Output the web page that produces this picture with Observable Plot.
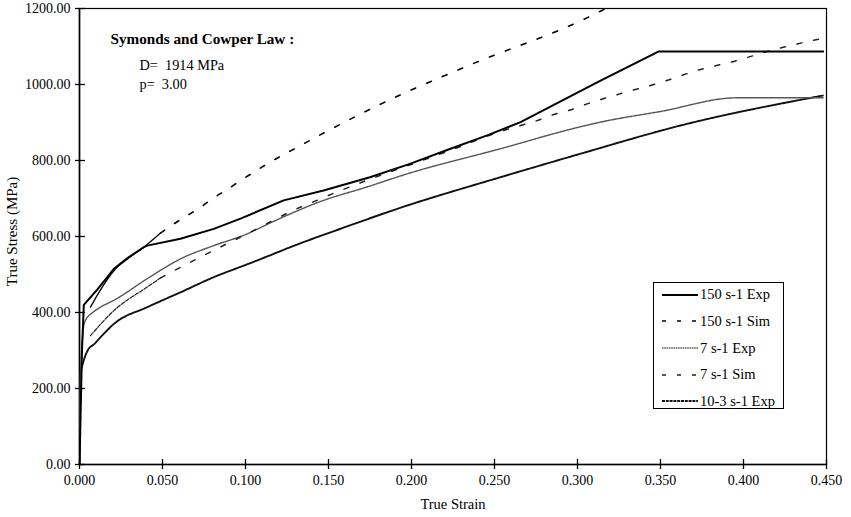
<!DOCTYPE html>
<html><head><meta charset="utf-8">
<script src="https://cdn.jsdelivr.net/npm/d3@7"></script>
<script src="https://cdn.jsdelivr.net/npm/@observablehq/plot@0.6"></script>
<style>
body{margin:0;background:#fff;}
#wrap{position:relative;width:851px;height:517px;font-family:"Liberation Serif",serif;color:#000;}
#legend{position:absolute;left:653px;top:282px;width:131px;height:127px;border:1.3px solid #000;background:#fff;box-sizing:border-box;}
.item{position:absolute;left:0;height:18px;display:flex;align-items:center;font-size:14.5px;white-space:nowrap;}
.item svg{margin-left:8px;margin-right:2px;}
</style></head><body><div id="wrap"></div>
<script>
// Axis ticks
const xTicks = [0, 0.05, 0.10, 0.15, 0.20, 0.25, 0.30, 0.35, 0.40, 0.45];
const yTicks = [0, 200, 400, 600, 800, 1000, 1200];

// 150 s-1 Exp
const strain150Exp = [0, 0.0015, 0.0026, 0.0107, 0.0207, 0.0295, 0.0388, 0.0408, 0.0608, 0.0809, 0.097, 0.123, 0.147, 0.175, 0.199, 0.2235, 0.2456, 0.2657, 0.3139, 0.349, 0.448];
const stress150Exp = [0, 300, 420, 460, 515, 545, 572, 576, 594, 620, 647, 695, 721, 756, 791, 831, 866, 901, 1010, 1087, 1087];

// 150 s-1 Sim
const strain150Sim = [0.0066, 0.012, 0.0207, 0.0295, 0.0388, 0.0488, 0.0568, 0.0649, 0.0729, 0.0809, 0.088, 0.097, 0.115, 0.133, 0.15, 0.197, 0.2155, 0.2355, 0.306, 0.317];
const stress150Sim = [414, 455, 510, 543, 572, 609, 633, 655, 677, 702, 721, 747, 796, 839, 879, 980, 1015, 1052, 1176, 1200];

// 7 s-1 Exp
const strain7Exp = [0, 0.0008, 0.0026, 0.0036, 0.008, 0.013, 0.0207, 0.0408, 0.0608, 0.0809, 0.1, 0.117, 0.147, 0.173, 0.196, 0.2536, 0.302, 0.3139, 0.35, 0.396, 0.448];
const stress7Exp = [0, 250, 366, 379, 400, 415, 432, 489, 541, 576, 605, 640, 695, 730, 763, 831, 889, 901, 929, 965, 965];

// 7 s-1 Sim
const strain7Sim = [0.0066, 0.0207, 0.0408, 0.0488, 0.0578, 0.0659, 0.0729, 0.1, 0.133, 0.143, 0.155, 0.165, 0.2235, 0.2556, 0.2657, 0.2757, 0.2857, 0.2958, 0.3058, 0.326, 0.35, 0.372, 0.396, 0.416, 0.446];
const stress7Sim = [339, 405, 467, 491, 512, 530, 546, 605, 677, 695, 717, 734, 827, 879, 892, 905, 921, 933, 949, 976, 1005, 1037, 1063, 1089, 1120];

// 10-3 s-1 Exp
const strain1e3Exp = [0, 0, 0.0003, 0.003, 0.0056, 0.0084, 0.0127, 0.0207, 0.0408, 0.0608, 0.0809, 0.103, 0.133, 0.157, 0.195, 0.2536, 0.302, 0.362, 0.448];
const stress1e3Exp = [0, 229, 235, 280, 305, 315, 335, 370, 414, 453, 493, 530, 582, 620, 678, 756, 818, 892, 971];

const legendLabels = ["150 s-1 Exp", "150 s-1 Sim", "7 s-1 Exp", "7 s-1 Sim", "10-3 s-1 Exp"];
const annotationLines = ["Symonds and Cowper Law :", "D=\u00a0 1914 MPa", "p=\u00a0 3.00"];

const rows = (xs, ys) => xs.map((x, i) => ({x, y: ys[i]}));
const r150e = rows(strain150Exp, stress150Exp);
const r150s = rows(strain150Sim, stress150Sim);
const r7e = rows(strain7Exp, stress7Exp);
const r7s = rows(strain7Sim, stress7Sim);
const r1e3 = rows(strain1e3Exp, stress1e3Exp);

const styles = [
  {stroke: "#000", strokeWidth: 2, strokeDasharray: null},
  {stroke: "#000", strokeWidth: 1.6, strokeDasharray: "5,12"},
  {stroke: "#555", strokeWidth: 1.4, strokeDasharray: "1.5,0.8"},
  {stroke: "#222", strokeWidth: 1.5, strokeDasharray: "5,12"},
  {stroke: "#111", strokeWidth: 1.9, strokeDasharray: "3,0.8"}
];
const splitX = 0.0488;

const chart = Plot.plot({
  width: 851, height: 517,
  marginLeft: 79, marginRight: 25, marginTop: 8, marginBottom: 53,
  style: {fontFamily: '"Liberation Serif", serif', fontSize: "14px", background: "#fff", color: "#000"},
  x: {domain: [0, 0.45]},
  y: {domain: [0, 1200]},
  marks: [
    Plot.frame({stroke: "#000", strokeWidth: 1.2}),
    Plot.ruleX([0], {stroke: "#000", strokeWidth: 1.6}),
    Plot.ruleY([0], {stroke: "#000", strokeWidth: 1.6}),
    Plot.ruleX(xTicks, {x: d => d, y1: 0, y2: 0, insetTop: -5, insetBottom: -5, stroke: "#000", strokeWidth: 1.3}),
    Plot.ruleY(yTicks, {y: d => d, x1: 0, x2: 0, insetLeft: -4, insetRight: -6, stroke: "#000", strokeWidth: 1.3}),
    Plot.axisX({ticks: xTicks, tickSize: 0, tickPadding: 11, tickFormat: d3.format(".3f"), label: null}),
    Plot.axisY({ticks: yTicks, tickSize: 0, tickPadding: 9, tickFormat: d3.format(".2f"), label: null}),
    // series
    Plot.line(r1e3, {x: "x", y: "y", ...styles[4], curve: "monotone-x", clip: true}),
    Plot.line(r7e, {x: "x", y: "y", ...styles[2], curve: "monotone-x", clip: true}),
    Plot.line(r7s, {x: "x", y: "y", filter: d => d.x <= splitX, stroke: "#222", strokeWidth: 1.2, strokeDasharray: "4,1.5", curve: "monotone-x", clip: true}),
    Plot.line(r7s, {x: "x", y: "y", filter: d => d.x >= splitX, ...styles[3], curve: "monotone-x", clip: true}),
    Plot.line(r150s, {x: "x", y: "y", filter: d => d.x <= splitX, stroke: "#000", strokeWidth: 1.3, curve: "monotone-x", clip: true}),
    Plot.line(r150s, {x: "x", y: "y", filter: d => d.x >= splitX, ...styles[1], curve: "monotone-x", clip: true}),
    Plot.line(r150e, {x: "x", y: "y", ...styles[0], clip: true}),
    // axis titles
    Plot.text(["True Strain"], {text: d => d, frameAnchor: "bottom", dy: 44, fontSize: 14.5}),
    Plot.text(["True Stress (MPa)"], {text: d => d, frameAnchor: "left", textAnchor: "middle", dx: -67, dy: -5, rotate: -90, fontSize: 15}),
    // annotation
    Plot.text([annotationLines[0]], {text: d => d, frameAnchor: "top-left", dx: 31, dy: 31, textAnchor: "start", lineAnchor: "middle", fontWeight: "bold", fontSize: 15.2}),
    Plot.text([annotationLines[1]], {text: d => d, frameAnchor: "top-left", dx: 60, dy: 57, textAnchor: "start", lineAnchor: "middle", fontSize: 14.3}),
    Plot.text([annotationLines[2]], {text: d => d, frameAnchor: "top-left", dx: 60, dy: 76, textAnchor: "start", lineAnchor: "middle", fontSize: 14.3})
  ]
});

const wrap = document.getElementById("wrap");
wrap.appendChild(chart);

const legend = document.createElement("div");
legend.id = "legend";
const rowCenters = [13, 39.7, 66.3, 93, 119.7];
legendLabels.forEach((lab, i) => {
  const st = styles[i];
  const item = document.createElement("div");
  item.className = "item";
  item.style.top = (rowCenters[i] - 9 - 1.3) + "px";
  const dash = (i === 1 || i === 3) ? "4,11" : (st.strokeDasharray || "");
  item.innerHTML = `<svg width="36" height="10"><line x1="0" y1="5" x2="36" y2="5" stroke="${st.stroke}" stroke-width="${st.strokeWidth}" ${dash ? `stroke-dasharray="${dash}"` : ""}/></svg><span>${lab}</span>`;
  legend.appendChild(item);
});
wrap.appendChild(legend);
</script>
</body></html>
